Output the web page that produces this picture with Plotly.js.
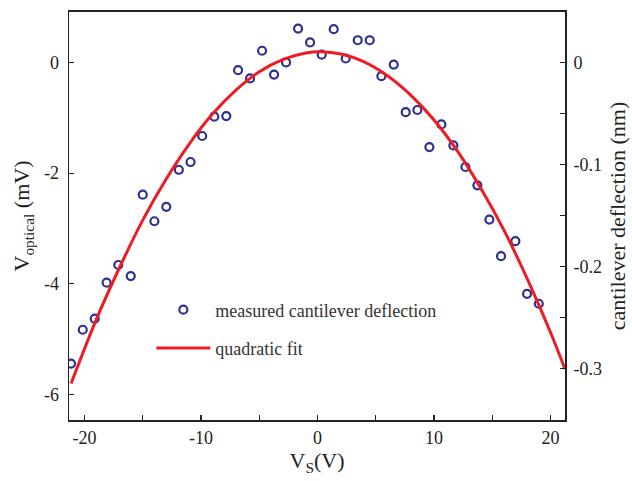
<!DOCTYPE html>
<html>
<head>
<meta charset="utf-8">
<script src="https://cdn.plot.ly/plotly-3.0.1.min.js"></script>
<style>html,body{margin:0;padding:0;background:#fff;}#chart{width:632px;height:481px;}</style>
</head>
<body>
<div id="chart"></div>
<script>
// Measured points (V_S in V, V_optical in mV)
var vs = [-21.16,-20.15,-19.12,-18.1,-17.1,-16.03,-15.0,-14.0,-12.98,-11.9,-10.9,-9.9,-8.86,-7.83,-6.82,-5.79,-4.76,-3.73,-2.7,-1.67,-0.64,0.36,1.39,2.42,3.45,4.48,5.48,6.54,7.57,8.57,9.6,10.63,11.66,12.69,13.72,14.75,15.75,16.98,17.98,18.99];
var vopt = [-5.44,-4.83,-4.63,-3.98,-3.66,-3.86,-2.39,-2.87,-2.61,-1.94,-1.80,-1.33,-0.98,-0.97,-0.14,-0.29,0.21,-0.22,0.0,0.61,0.36,0.14,0.60,0.07,0.40,0.40,-0.25,-0.04,-0.90,-0.86,-1.53,-1.12,-1.50,-1.89,-2.22,-2.84,-3.50,-3.23,-4.18,-4.36];

// Quadratic fit curve
var fitX = [-21.15,-19,-17,-15,-13,-11,-9,-7,-5,-3,-1,0.3,2,4,6,8,10,12,14,16,18,20,21.24];
var fitY = [-5.80,-4.65,-3.71,-2.85,-2.11,-1.47,-0.93,-0.50,-0.17,0.05,0.17,0.19,0.15,0.01,-0.24,-0.59,-1.04,-1.60,-2.27,-3.03,-3.91,-4.88,-5.54];

var xTickVals = [-20,-10,0,10,20];
var xTickText = ['-20','-10','0','10','20'];
var yTickVals = [-6,-4,-2,0];
var yTickText = ['-6','-4','-2','0'];
var y2TickVals = [-0.3,-0.2,-0.1,0];
var y2TickText = ['-0.3','-0.2','-0.1','0'];

var serif = 'Liberation Serif, Times New Roman, serif';

var traces = [
  {x: vs, y: vopt, type: 'scatter', mode: 'markers', name: 'measured cantilever deflection',
   legendgroup: 'a',
   marker: {symbol: 'circle-open', size: 8, color: '#2e3192', line: {width: 2.2, color: '#2e3192'}}},
  {x: fitX, y: fitY, type: 'scatter', mode: 'lines', name: 'quadratic fit',
   legendgroup: 'b',
   line: {color: '#ed1c24', width: 3, shape: 'spline', smoothing: 1}},
  {x: [], y: [], type: 'scatter', mode: 'lines', yaxis: 'y2', showlegend: false, hoverinfo: 'skip'}
];

var layout = {
  width: 632, height: 481,
  margin: {l: 69, r: 67, t: 12, b: 61, pad: 0},
  paper_bgcolor: '#fff', plot_bgcolor: '#fff',
  font: {family: serif, size: 18, color: '#222'},
  showlegend: true,
  legend: {x: 0.166, y: 0.315, xanchor: 'left', yanchor: 'top', bgcolor: 'rgba(0,0,0,0)',
           font: {family: serif, size: 18, color: '#333'}, traceorder: 'grouped', tracegroupgap: 12,
           itemwidth: 54},
  xaxis: {range: [-21.33, 21.24], tickvals: xTickVals, ticktext: xTickText,
          ticks: 'inside', ticklen: 5, tickwidth: 1.2, tickcolor: '#222',
          minor: {dtick: 5, tick0: 0, ticks: 'inside', ticklen: 5, tickwidth: 1.2, tickcolor: '#222'},
          showline: true, linecolor: '#222', linewidth: 2, mirror: true,
          showgrid: false, zeroline: false,
          tickfont: {family: serif, size: 18, color: '#222'},
          title: {text: 'V<sub>S</sub>(V)', font: {family: serif, size: 22, color: '#222'}, standoff: 6}},
  yaxis: {range: [-6.46, 0.91], tickvals: yTickVals, ticktext: yTickText,
          ticks: 'inside', ticklen: 5, tickwidth: 1.2, tickcolor: '#222',
          ticklabelstandoff: 5,
          showline: true, linecolor: '#222', linewidth: 1.5, mirror: false,
          showgrid: false, zeroline: false,
          tickfont: {family: serif, size: 18, color: '#222'},
          title: {text: 'V<sub>optical</sub> (mV)', font: {family: serif, size: 22, color: '#222'}, standoff: 8}},
  yaxis2: {range: [-0.35, 0.0492], overlaying: 'y', side: 'right', anchor: 'x',
          tickvals: y2TickVals, ticktext: y2TickText,
          ticks: 'inside', ticklen: 5, tickwidth: 1.2, tickcolor: '#222',
          ticklabelstandoff: 3,
          minor: {dtick: 0.05, tick0: 0, ticks: 'inside', ticklen: 5, tickwidth: 1.2, tickcolor: '#222'},
          showline: true, linecolor: '#222', linewidth: 2,
          showgrid: false, zeroline: false,
          tickfont: {family: serif, size: 18, color: '#222'},
          title: {text: 'cantilever deflection (nm)', font: {family: serif, size: 22, color: '#222'}, standoff: 9}}
};

Plotly.newPlot('chart', traces, layout, {displayModeBar: false, staticPlot: true});
</script>
</body>
</html>
